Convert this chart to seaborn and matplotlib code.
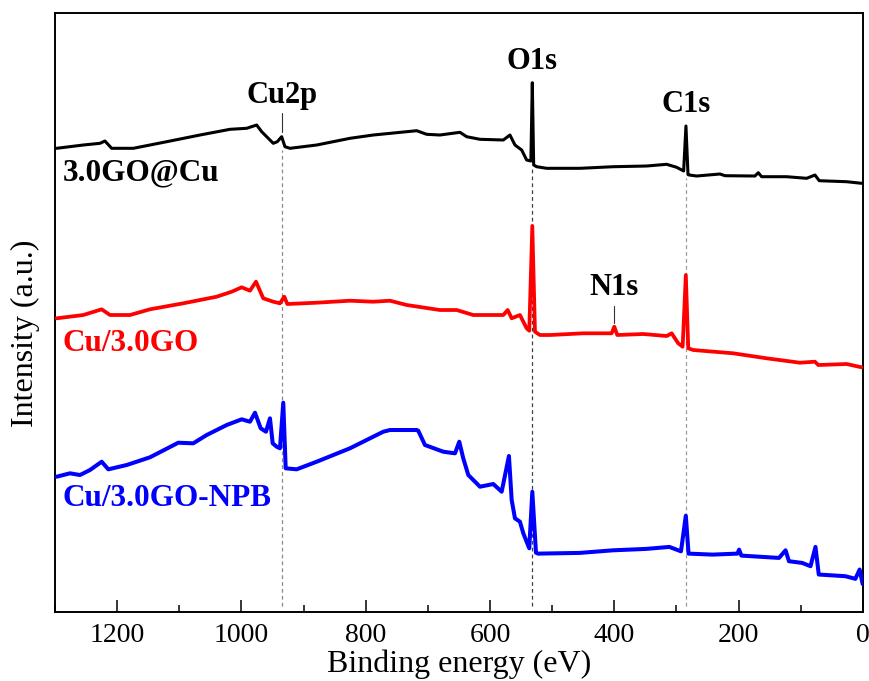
import numpy as np
import pandas as pd
import matplotlib
matplotlib.use("Agg")
import matplotlib.pyplot as plt
import seaborn as sns

# ---- XPS survey spectra (binding energy in eV, intensity in arbitrary units, offset per sample) ----
energy_go_cu = [1297.3, 1254.5, 1227.6, 1219.6, 1208.8, 1174.0, 1120.3, 1066.7, 1018.4, 991.6,
                975.5, 967.4, 959.4, 948.8, 942.3, 935.3, 930.0, 921.9, 878.9, 825.4,
                787.9, 718.0, 702.0, 680.6, 648.4, 637.6, 616.2, 578.7, 568.0, 559.9,
                549.1, 541.1, 534.3, 532.0, 529.8, 525.0, 508.9, 455.3, 401.7, 348.0,
                315.8, 299.7, 288.5, 284.8, 281.5, 279.5, 267.6, 230.1, 222.0, 173.8,
                168.4, 163.0, 122.8, 90.6, 77.2, 70.3, 26.2, 2.1]
intensity_go_cu = [463.7, 467.0, 468.7, 471.0, 463.7, 463.7, 470.3, 477.0, 482.7, 483.7,
                   487.0, 480.3, 475.3, 468.7, 470.3, 475.3, 465.3, 463.7, 467.0, 473.7,
                   477.0, 481.3, 477.7, 477.0, 479.7, 475.3, 472.7, 472.0, 477.0, 467.0,
                   462.0, 452.0, 451.0, 529.3, 447.0, 445.3, 443.7, 443.7, 445.3, 446.0,
                   447.7, 444.7, 441.0, 486.0, 437.5, 437.0, 436.0, 438.0, 436.3, 436.0,
                   439.3, 435.3, 435.3, 433.7, 437.0, 431.3, 430.3, 428.7]

energy_cu_go = [1297.3, 1254.5, 1224.9, 1211.5, 1179.3, 1147.2, 1093.6, 1039.8, 1015.7, 999.6,
                986.3, 976.6, 964.9, 948.8, 938.0, 931.1, 926.2, 878.9, 825.4, 787.9,
                761.0, 734.1, 680.6, 653.7, 627.0, 578.7, 571.6, 565.2, 551.9, 541.1,
                536.9, 532.0, 527.7, 519.7, 503.6, 450.0, 404.3, 400.1, 395.3, 353.5,
                315.8, 307.8, 297.2, 290.1, 285.0, 281.1, 273.0, 208.7, 154.9, 101.4,
                77.2, 71.9, 26.2, 2.1]
intensity_cu_go = [293.7, 297.0, 302.7, 297.0, 297.0, 302.7, 308.7, 315.3, 320.3, 324.7,
                   321.3, 330.3, 313.7, 310.3, 308.7, 315.3, 308.0, 309.3, 311.3, 310.3,
                   311.3, 307.0, 302.0, 302.0, 297.0, 297.0, 302.0, 293.7, 297.0, 283.7,
                   281.3, 386.1, 280.3, 277.0, 277.0, 278.7, 278.7, 285.3, 277.0, 278.0,
                   276.0, 278.7, 268.7, 265.3, 337.0, 263.7, 262.0, 258.7, 253.7, 249.3,
                   250.3, 247.0, 248.0, 244.7]

energy_npb = [1297.3, 1275.9, 1259.8, 1243.7, 1224.9, 1214.2, 1184.6, 1147.2, 1101.6, 1077.5,
              1055.9, 1023.7, 999.6, 986.3, 978.2, 969.0, 960.5, 954.1, 949.7, 943.3,
              938.0, 932.7, 928.8, 911.1, 878.9, 825.4, 771.8, 761.0, 718.0, 715.5,
              704.7, 675.3, 656.4, 649.5, 643.1, 635.0, 616.2, 594.8, 581.3, 569.6,
              565.2, 559.9, 551.9, 546.5, 536.9, 532.0, 526.1, 522.7, 455.8, 402.4,
              349.0, 311.5, 292.8, 285.0, 280.6, 242.1, 201.9, 199.3, 195.6, 135.1,
              124.5, 119.1, 97.8, 84.4, 76.4, 71.1, 28.3, 12.2, 5.3, 0.5]
intensity_npb = [135.3, 138.7, 137.0, 142.0, 150.3, 142.7, 147.0, 154.7, 169.3, 168.7,
                 177.0, 187.0, 192.7, 190.3, 199.3, 183.7, 180.3, 193.7, 168.7, 165.3,
                 163.7, 209.3, 143.7, 142.7, 150.3, 163.7, 180.3, 182.0, 182.0, 181.3,
                 167.0, 160.3, 158.7, 170.3, 153.7, 137.0, 125.3, 128.0, 120.3, 156.0,
                 112.0, 93.7, 90.3, 78.7, 63.7, 120.3, 59.3, 58.4, 59.1, 61.7,
                 63.1, 65.1, 60.7, 96.3, 58.4, 57.4, 58.4, 62.4, 56.4, 54.1,
                 61.7, 50.8, 49.1, 45.8, 65.1, 37.5, 35.8, 33.2, 42.5, 28.0]

sample_names = ["3.0GO@Cu", "Cu/3.0GO", "Cu/3.0GO-NPB"]
sample_colors = ["#000000", "#ff0000", "#0000ff"]

# peak assignments: (label, energy)
peak_names = ["Cu2p", "O1s", "C1s", "N1s"]
peak_energies = [935.0, 532.0, 285.0, 400.0]

sns.set_theme(style="ticks")
plt.rcParams["font.family"] = ["Liberation Serif", "DejaVu Serif"]
plt.rcParams["mathtext.fontset"] = "stix"

fig = plt.figure(figsize=(8.7, 6.81), dpi=100)
ax = fig.add_axes([0.0632, 0.1013, 0.9287, 0.8796])

series = [(energy_go_cu, intensity_go_cu, 2.2),
          (energy_cu_go, intensity_cu_go, 2.7),
          (energy_npb, intensity_npb, 2.9)]
for (e, inten, lw), name, col in zip(series, sample_names, sample_colors):
    df = pd.DataFrame({"Binding energy (eV)": e, "Intensity": inten})
    sns.lineplot(data=df, x="Binding energy (eV)", y="Intensity", color=col,
                 linewidth=lw, estimator=None, sort=False, ax=ax, zorder=3)

# dashed guides under the main photoelectron lines
ax.plot([935.0, 935.0], [6, 462], ls=(0, (3, 2.5)), color="#8a8a8a", lw=0.9, zorder=2)
ax.plot([532.0, 532.0], [6, 443], ls=(0, (3, 2.5)), color="#404040", lw=0.9, zorder=2)
ax.plot([285.0, 285.0], [6, 434], ls=(0, (3, 2.5)), color="#9a9a9a", lw=0.9, zorder=2)

# short leader ticks above the weak peaks
ax.plot([935.0, 935.0], [480, 499], color="#333333", lw=0.8)
ax.plot([400.0, 400.0], [289, 306], color="#333333", lw=0.8)

peak_label_y = [508.7, 543.0, 500.3, 317.0]
for name, e, y in zip(peak_names, peak_energies, peak_label_y):
    ax.text(e, y, name, ha="center", va="baseline", fontsize=22,
            fontweight="bold", color="black")

sample_label_y = [432.0, 261.3, 106.0]
for name, col, y in zip(sample_names, sample_colors, sample_label_y):
    ax.text(1288, y, name, ha="left", va="baseline", fontsize=22.5,
            fontweight="bold", color=col)

ax.set_xlim(1300, 0)
ax.set_ylim(0, 599)
ax.set_xticks([1200, 1000, 800, 600, 400, 200, 0])
ax.set_xticks(np.arange(1300, -1, -100), minor=True)
ax.set_yticks([])
ax.tick_params(axis="x", which="major", direction="in", length=8.6, width=1.1,
               pad=8, labelsize=20, top=False, color="black", labelcolor="black")
ax.tick_params(axis="x", which="minor", direction="in", length=4.8, width=1.1,
               top=False, color="black")
for sp in ax.spines.values():
    sp.set_visible(True)
    sp.set_linewidth(1.4)
    sp.set_color("black")

ax.set_xlabel("Binding energy (eV)", fontsize=23, color="black")
ax.xaxis.set_label_coords(0.5, -0.062)
ax.xaxis.label.set_va("top")
ax.set_ylabel("Intensity (a.u.)", fontsize=23, color="black")
ax.yaxis.set_label_coords(-0.019, 0.465)

fig.savefig("out.png", dpi=100)
